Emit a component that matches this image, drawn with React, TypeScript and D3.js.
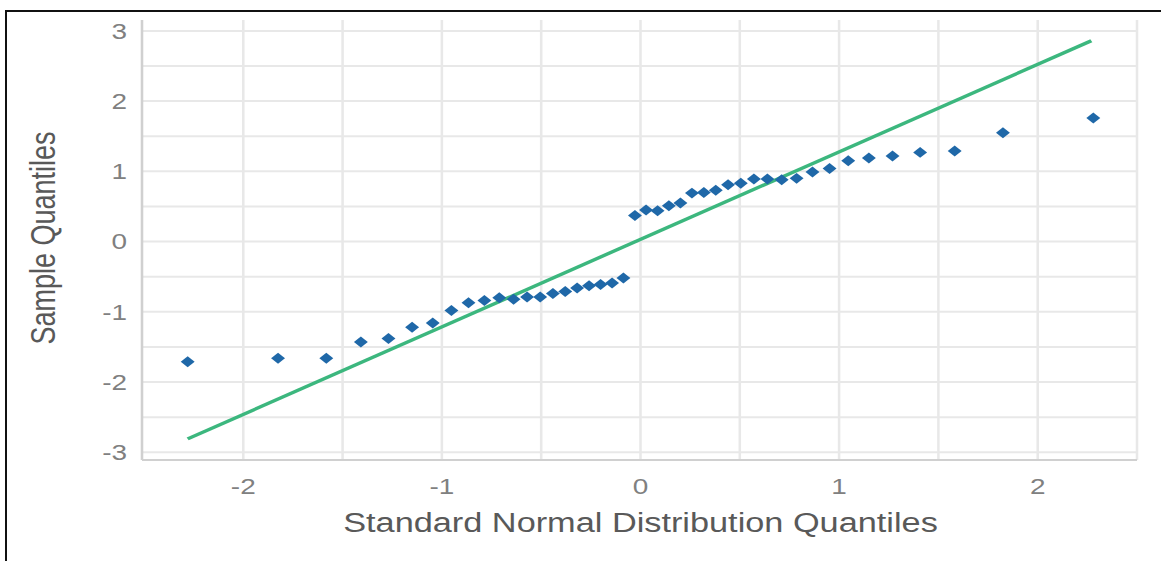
import React from 'react';
import * as d3 from 'd3';

// theoretical (standard normal) quantiles
const theoretical = [
  -2.28, -1.825, -1.582, -1.408, -1.269, -1.15, -1.046, -0.952, -0.866, -0.786, -0.711,
  -0.639, -0.571, -0.505, -0.441, -0.379, -0.319, -0.259, -0.201, -0.143, -0.086, -0.028,
  0.028, 0.086, 0.143, 0.201, 0.259, 0.319, 0.379, 0.441, 0.505, 0.571, 0.639, 0.711,
  0.786, 0.866, 0.952, 1.046, 1.15, 1.269, 1.408, 1.582, 1.825, 2.28,
];
// sample quantiles
const sample = [
  -1.71, -1.66, -1.66, -1.43, -1.38, -1.22, -1.16, -0.98, -0.87, -0.84, -0.8,
  -0.82, -0.79, -0.79, -0.74, -0.71, -0.66, -0.63, -0.61, -0.59, -0.52, 0.37,
  0.45, 0.44, 0.51, 0.55, 0.69, 0.7, 0.73, 0.81, 0.83, 0.89, 0.89, 0.88,
  0.9, 0.99, 1.04, 1.15, 1.19, 1.22, 1.27, 1.29, 1.55, 1.76,
];
// reference line end points
const refX = [-2.28, 2.27];
const refY = [-2.81, 2.86];

const xTicks = [-2, -1, 0, 1, 2];
const yTicks = [-3, -2, -1, 0, 1, 2, 3];
const xGrid = [-2, -1.5, -1, -0.5, 0, 0.5, 1, 1.5, 2, 2.5];
const yGrid = [-3, -2.5, -2, -1.5, -1, -0.5, 0, 0.5, 1, 1.5, 2, 2.5, 3];

const xTitle = 'Standard Normal Distribution Quantiles';
const yTitle = 'Sample Quantiles';

export default function App() {
  const W = 1161;
  const H = 561;
  // the source picture is stretched sideways, so is this one
  const SX = 1.27;
  const left = 142, right = 1137, top = 20, bottom = 460;

  const x = d3.scaleLinear().domain([-2.51, 2.5]).range([left / SX, right / SX]);
  const y = d3.scaleLinear().domain([-3.11, 3.155]).range([bottom, top]);

  const line = d3.line<number>()
    .x((d) => x(d))
    .y((d, i) => y(refY[i]));

  const diamond = d3.symbol().type(d3.symbolSquare).size(60)();
  const font = '"Liberation Sans", Arial, sans-serif';

  return (
    <svg width={W} height={H} style={{ position: 'absolute', left: 0, top: 0, background: '#fff' }}>
      <rect x={6} y={11} width={1300} height={700} fill="none" stroke="#111" strokeWidth={2} />
      <g transform={`scale(${SX},1)`} fontFamily={font}>
        {/* grid */}
        {yGrid.map((t) => (
          <line key={'yg' + t} x1={x(-2.51)} x2={x(2.5)} y1={y(t)} y2={y(t)} stroke="#e8e8e8" strokeWidth={2} />
        ))}
        {xGrid.map((t) => (
          <line key={'xg' + t} x1={x(t)} x2={x(t)} y1={top} y2={bottom} stroke="#e8e8e8" strokeWidth={2} />
        ))}
        {/* axes */}
        <line x1={x(-2.51)} x2={x(-2.51)} y1={top} y2={bottom} stroke="#d0d0d0" strokeWidth={2} />
        <line x1={x(-2.51)} x2={x(2.5)} y1={bottom} y2={bottom} stroke="#d0d0d0" strokeWidth={2} />

        {yTicks.map((t) => (
          <text key={'yt' + t} x={127 / SX} y={y(t)} dy="0.36em" textAnchor="end" fontSize={22} fill="#808080">
            {t}
          </text>
        ))}
        {xTicks.map((t) => (
          <text key={'xt' + t} x={x(t)} y={494} textAnchor="middle" fontSize={22} fill="#808080">
            {t}
          </text>
        ))}

        {/* reference line */}
        <path d={line(refX) || ''} fill="none" stroke="#3cb77e" strokeWidth={3.3} />

        {/* points */}
        {theoretical.map((v, i) => (
          <path key={i} d={diamond || ''} transform={`translate(${x(v)},${y(sample[i])}) rotate(45)`} fill="#1f68a8" />
        ))}

        <text x={x(0)} y={532} textAnchor="middle" fontSize={27} fill="#595959">{xTitle}</text>
        <text transform={`translate(${43 / SX},${238}) rotate(-90)`} dy="0.36em" textAnchor="middle" fontSize={27} fill="#595959">
          {yTitle}
        </text>
      </g>
    </svg>
  );
}
